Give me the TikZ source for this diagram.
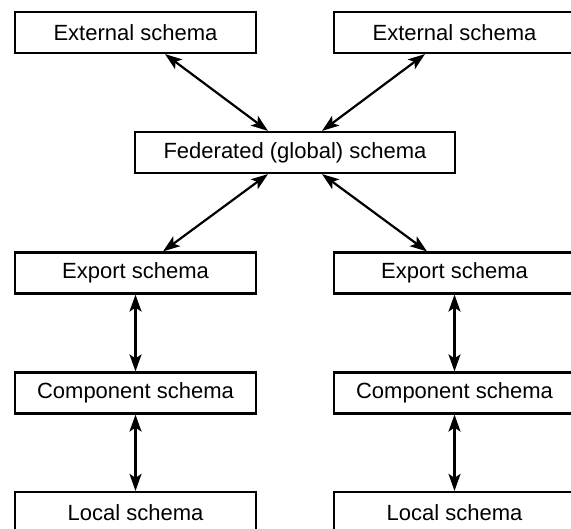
\documentclass[tikz,border=0pt]{standalone}
\usepackage{fontspec}
\setmainfont{Liberation Sans}
\usetikzlibrary{arrows.meta}
\begin{document}
\begin{tikzpicture}[x=1pt,y=-1pt,
  schemabox/.style={draw, line width=2.2pt, minimum width=241pt, minimum height=41pt,
    inner sep=0pt, font=\fontsize{22}{26}\selectfont},
  link/.style={line width=2.2pt, {Stealth[length=17pt,width=12pt,inset=4pt]}-{Stealth[length=17pt,width=12pt,inset=4pt]}}]
  \useasboundingbox (0,0) rectangle (571,529);
  \clip (0,0) rectangle (571,529);
  % left column
  \node[schemabox] (extL) at (135.5,32.5) {External schema};
  \node[schemabox] (expL) at (135.5,273) {Export schema};
  \node[schemabox] (comL) at (135.5,393) {Component schema};
  \node[schemabox] (locL) at (135.5,512.5) {Local schema};
  % right column
  \node[schemabox] (extR) at (454.5,32.5) {External schema};
  \node[schemabox] (expR) at (454.5,273) {Export schema};
  \node[schemabox] (comR) at (454.5,393) {Component schema};
  \node[schemabox] (locR) at (454.5,512.5) {Local schema};
  % federated schema
  \node[schemabox, minimum width=320pt] (fed) at (295,152.5) {Federated (global) schema};
  % connectors
  \draw[link] ([xshift=29.5pt]extL.south) -- ([xshift=-27pt]fed.north);
  \draw[link] ([xshift=-29.5pt]extR.south) -- ([xshift=27pt]fed.north);
  \draw[link] ([xshift=-27pt]fed.south) -- ([xshift=27.5pt]expL.north);
  \draw[link] ([xshift=27pt]fed.south) -- ([xshift=-27.5pt]expR.north);
  \draw[link] (expL) -- (comL);
  \draw[link] (comL) -- (locL);
  \draw[link] (expR) -- (comR);
  \draw[link] (comR) -- (locR);
\end{tikzpicture}
\end{document}
